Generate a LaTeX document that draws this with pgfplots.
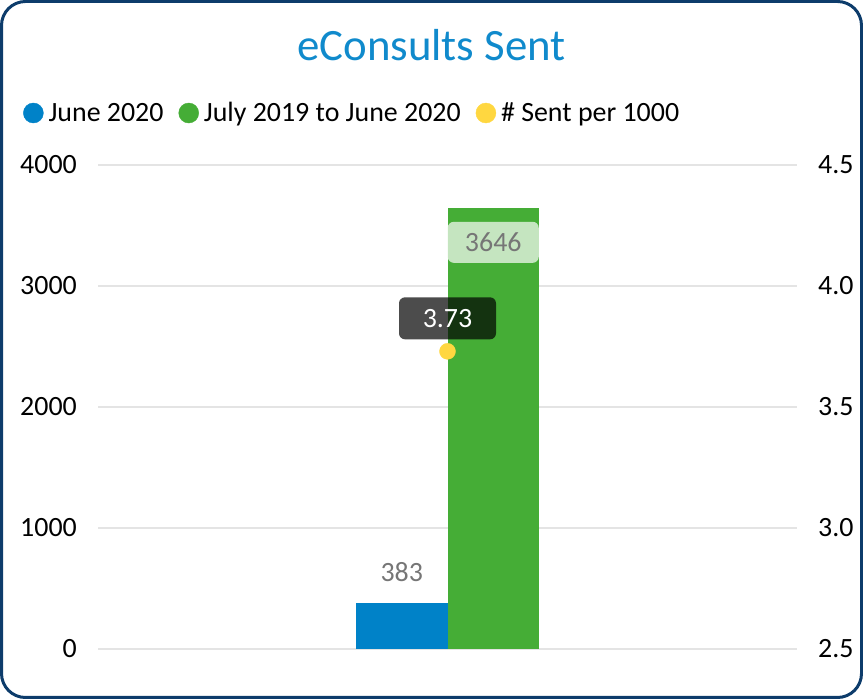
\documentclass[border=0pt]{standalone}
\usepackage{fontspec}
\setmainfont{Carlito}
\usepackage{pgfplots}
\pgfplotsset{compat=1.18}
\definecolor{cblue}{RGB}{0,130,200}
\definecolor{cgreen}{RGB}{69,173,54}
\definecolor{cyellow}{RGB}{255,215,64}
\definecolor{ctitle}{RGB}{16,138,204}
\definecolor{cborder}{RGB}{13,60,107}
\definecolor{cgrid}{RGB}{228,228,228}
\definecolor{clab}{RGB}{118,118,118}
\definecolor{clgreen}{RGB}{197,229,192}
\begin{document}
\begin{tikzpicture}[x=1bp,y=1bp]
\useasboundingbox (0,0) rectangle (863,699);
\draw[cborder, line width=3bp, rounded corners=24bp] (1.5,1.5) rectangle (861.5,697.5);
\node[ctitle, font=\fontsize{45}{54}\selectfont] at (431.5,654) {eConsults Sent};
\begin{axis}[
  at={(98bp,50bp)}, anchor=south west, scale only axis,
  width=699bp, height=484bp,
  xmin=-3.82, xmax=3.82, ymin=0, ymax=4000,
  ytick={0,1000,2000,3000,4000}, xtick=\empty,
  axis line style={draw=none}, major tick length=0pt,
  ymajorgrids, grid style={cgrid, line width=1.2bp},
  /pgf/number format/assume math mode=true,
  /pgf/number format/1000 sep={},
  yticklabel style={font=\fontsize{28}{33}\selectfont, inner sep=0pt, anchor=east, xshift=-21bp},
  clip=false,
  legend columns=-1,
  legend style={at={(-0.1116,1.1074)}, anchor=west, draw=none, fill=none,
    font=\fontsize{28}{33}\selectfont, nodes={inner sep=0pt},
    /tikz/every odd column/.append style={column sep=5bp},
    /tikz/every even column/.append style={column sep=15bp}},
]
\addlegendimage{legend image code/.code={\fill[cblue] (0,0) circle (10bp);}}
\addlegendentry{June 2020}
\addlegendimage{legend image code/.code={\fill[cgreen] (0,0) circle (10bp);}}
\addlegendentry{July 2019 to June 2020}
\addlegendimage{legend image code/.code={\fill[cyellow] (0,0) circle (10bp);}}
\addlegendentry{\# Sent per 1000}
\addplot[ybar, fill=cblue, draw=none, bar width=1, bar shift=0, forget plot] coordinates {(-0.5,383)};
\addplot[ybar, fill=cgreen, draw=none, bar width=1, bar shift=0, forget plot] coordinates {(0.5,3646)};
\node[anchor=base, text=clab, font=\fontsize{28}{33}\selectfont, inner sep=0pt, yshift=21bp] at (axis cs:-0.5,383) {383};
\node[fill=clgreen, rounded corners=6bp, text=clab, font=\fontsize{28}{33}\selectfont, minimum width=91bp, minimum height=41bp, inner sep=0pt, yshift=-34.5bp] at (axis cs:0.5,3646) {3646};
\end{axis}
\begin{axis}[
  at={(98bp,50bp)}, anchor=south west, scale only axis,
  width=699bp, height=484bp,
  xmin=-3.82, xmax=3.82, ymin=2.5, ymax=4.5,
  ytick={2.5,3.0,3.5,4.0,4.5}, xtick=\empty,
  yticklabel pos=right,
  axis line style={draw=none}, major tick length=0pt,
  /pgf/number format/assume math mode=true,
  /pgf/number format/fixed, /pgf/number format/fixed zerofill, /pgf/number format/precision=1,
  yticklabel style={font=\fontsize{28}{33}\selectfont, inner sep=0pt, anchor=west, xshift=21bp},
  clip=false,
]
\addplot[only marks, mark=*, mark size=8bp, color=cyellow] coordinates {(0,3.73)};
\node[fill=black, fill opacity=0.7, text opacity=1, text=white, rounded corners=6bp, font=\fontsize{28}{33}\selectfont, minimum width=97bp, minimum height=42bp, inner sep=0pt, yshift=33bp] at (axis cs:0,3.73) {3.73};
\end{axis}
\end{tikzpicture}
\end{document}
